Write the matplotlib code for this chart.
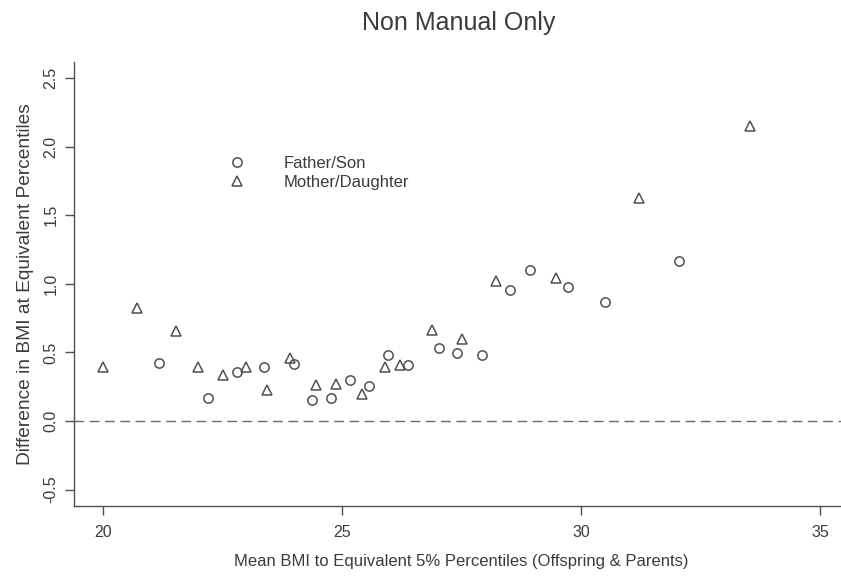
import matplotlib
matplotlib.use("Agg")
import matplotlib.pyplot as plt

# Father/Son pairs
fs_x = [21.17, 22.19, 22.80, 23.36, 23.99, 24.38, 24.77, 25.16, 25.57, 25.96,
        26.38, 27.02, 27.40, 27.93, 28.51, 28.93, 29.73, 30.50, 32.06]
fs_y = [0.420, 0.166, 0.355, 0.394, 0.416, 0.156, 0.171, 0.297, 0.258, 0.484,
        0.409, 0.535, 0.493, 0.481, 0.956, 1.102, 0.980, 0.864, 1.167]

# Mother/Daughter pairs
md_x = [20.00, 20.72, 21.52, 21.99, 22.51, 22.99, 23.43, 23.92, 24.45, 24.88,
        25.41, 25.91, 26.22, 26.89, 27.52, 28.22, 29.47, 31.22, 33.53]
md_y = [0.391, 0.825, 0.658, 0.394, 0.333, 0.391, 0.229, 0.462, 0.265, 0.273,
        0.195, 0.394, 0.406, 0.660, 0.598, 1.022, 1.041, 1.628, 2.154]

x_ticks = [20, 25, 30, 35]
y_ticks = [-0.5, 0.0, 0.5, 1.0, 1.5, 2.0, 2.5]
y_tick_labels = ["-0.5", "0.0", "0.5", "1.0", "1.5", "2.0", "2.5"]

plt.rcParams["font.family"] = ["Liberation Sans", "DejaVu Sans"]

ink = "#505050"
text_col = "#3c3c3c"

fig = plt.figure(figsize=(8.41, 5.83), dpi=100)
ax = fig.add_axes([0.0883, 0.1321, 0.9209, 0.7621])

ax.set_xlim(19.4, 35.6)
ax.set_ylim(-0.62, 2.62)

ax.axhline(0, color="#6a6a6a", lw=1.0, ls=(0, (7, 4)), zorder=1)

ax.plot(fs_x, fs_y, ls="none", marker="o", ms=6.7, mfc="none",
        mec=ink, mew=1.1, label="Father/Son", zorder=3)
ax.plot(md_x, md_y, ls="none", marker="^", ms=6.5, mfc="none",
        mec=ink, mew=1.1, label="Mother/Daughter", zorder=3)

for side in ("top", "right"):
    ax.spines[side].set_visible(False)
for side in ("left", "bottom"):
    ax.spines[side].set_color(ink)
    ax.spines[side].set_linewidth(1.0)

ax.set_xticks(x_ticks)
ax.set_xticklabels([str(v) for v in x_ticks])
ax.set_yticks(y_ticks)
ax.set_yticklabels(y_tick_labels, rotation=90, va="center")
ax.tick_params(axis="both", colors=ink, labelcolor=text_col, labelsize=11.5,
               length=6.5, width=1.0)
ax.tick_params(axis="x", pad=7)
ax.tick_params(axis="y", pad=5)

ax.set_xlabel("Mean BMI to Equivalent 5% Percentiles (Offspring & Parents)",
              fontsize=12, color=text_col, labelpad=10)
ax.set_ylabel("Difference in BMI at Equivalent Percentiles",
              fontsize=13.8, color=text_col, labelpad=7)

fig.text(0.546, 0.960, "Non Manual Only", ha="center", va="center",
         fontsize=18, color=text_col)

ax.legend(loc="upper left", bbox_to_anchor=(0.188, 0.806), frameon=False,
          fontsize=12, handletextpad=2.3, labelspacing=0.2,
          labelcolor=text_col, borderpad=0, handlelength=1.0)

fig.savefig("out.png", dpi=100)
